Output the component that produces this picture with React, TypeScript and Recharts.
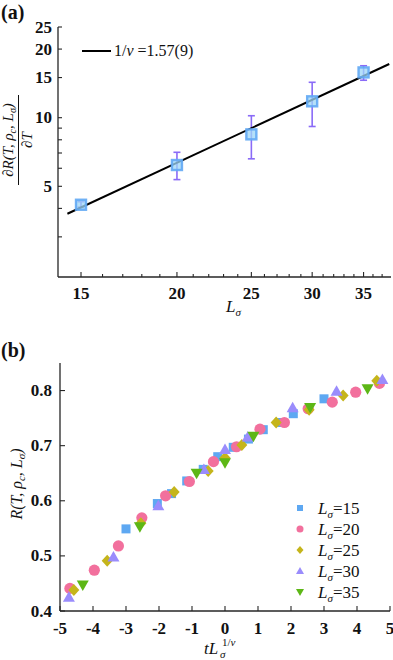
import React from 'react';
import { ComposedChart, Scatter, XAxis, YAxis, ErrorBar } from 'recharts';

const FONT = '"Liberation Serif", "Times New Roman", serif';
const AXIS = '#262626';

// ---------- Panel (a) ----------
const systemSizes = [15, 20, 25, 30, 35];
const slopeValues = [4.15, 6.2, 8.45, 11.8, 15.8];
const slopeLower = [4.05, 5.35, 6.6, 9.15, 14.6];
const slopeUpper = [4.28, 7.05, 10.2, 14.3, 16.9];
const fitSizes = [14.4, 37.8];
const fitValues = [3.79, 17.2];
const aXTicks = [15, 16, 17, 18, 19, 20, 21, 22, 23, 24, 25, 26, 27, 28, 29, 30, 31, 32, 33, 34, 35, 36, 37];
const aXLabels = [15, 20, 25, 30, 35];
const aYTicks = [3, 4, 5, 6, 7, 8, 9, 10, 15, 20, 25];
const aYLabels = [5, 10, 15, 20, 25];

// ---------- Panel (b) ----------
const bXTicks = [-5, -4, -3, -2, -1, 0, 1, 2, 3, 4, 5];
const bYTicks = [0.4, 0.5, 0.6, 0.7, 0.8];

const tL15 = [-3.0, -2.05, -1.62, -1.16, -0.66, -0.22, 0.25, 0.71, 1.16, 1.72, 2.07, 3.0];
const rL15 = [0.549, 0.595, 0.613, 0.636, 0.657, 0.68, 0.697, 0.712, 0.729, 0.742, 0.758, 0.785];
const tL20 = [-4.7, -3.96, -3.23, -2.52, -1.8, -1.08, -0.35, 0.35, 1.06, 1.8, 2.52, 3.25, 3.96, 4.68];
const rL20 = [0.441, 0.474, 0.518, 0.569, 0.609, 0.635, 0.671, 0.698, 0.73, 0.742, 0.767, 0.779, 0.797, 0.813];
const tL25 = [-4.58, -3.57, -2.55, -1.54, -0.51, 0, 0.51, 1.55, 2.55, 3.58, 4.6];
const rL25 = [0.438, 0.491, 0.559, 0.616, 0.654, 0.678, 0.701, 0.742, 0.765, 0.791, 0.818];
const tL30 = [-4.73, -3.38, -2.02, -0.64, 0, 0.69, 2.05, 3.38, 4.77];
const rL30 = [0.424, 0.497, 0.59, 0.656, 0.692, 0.715, 0.768, 0.798, 0.819];
const tL35 = [-4.31, -2.58, -0.86, 0, 0.86, 2.58, 4.32];
const rL35 = [0.448, 0.554, 0.651, 0.67, 0.718, 0.77, 0.804];
const legendNames = ['15', '20', '25', '30', '35'];

const C_BLUE = '#5ea8f2';
const C_PINK = '#f2709d';
const C_OLIVE = '#c5b51b';
const C_LAV = '#9a8cfc';
const C_GREEN = '#5db716';

const zip = (xs: number[], ys: number[]) => xs.map((x, i) => ({ x, y: ys[i] }));

const pointsA = systemSizes.map((x, i) => ({
  x,
  y: slopeValues[i],
  err: [slopeValues[i] - slopeLower[i], slopeUpper[i] - slopeValues[i]],
}));
const fitA = zip(fitSizes, fitValues);

type Side = 'left' | 'right' | 'top' | 'bottom';

const tickFactory = (
  side: Side,
  majors: number[],
  labels: number[] | null,
  majorLen: number,
  minorLen: number,
  gap: number,
  fmt: (v: number) => string
) => (props: any) => {
  const { x, y, payload } = props;
  const v = payload.value;
  const isMajor = majors.some((m) => Math.abs(m - v) < 1e-9);
  const len = isMajor ? majorLen : minorLen;
  let line: any = null;
  if (side === 'left') line = <line x1={x} y1={y} x2={x + len} y2={y} />;
  if (side === 'right') line = <line x1={x} y1={y} x2={x - len} y2={y} />;
  if (side === 'bottom') line = <line x1={x} y1={y} x2={x} y2={y - len} />;
  if (side === 'top') line = <line x1={x} y1={y} x2={x} y2={y + len} />;
  const showLabel = labels && labels.some((m) => Math.abs(m - v) < 1e-9);
  let label: any = null;
  if (showLabel) {
    if (side === 'left')
      label = (
        <text x={x - gap} y={y} textAnchor="end" dominantBaseline="central" fontFamily={FONT} fontWeight="bold" fontSize={17} fill="#111" stroke="none">
          {fmt(v)}
        </text>
      );
    if (side === 'bottom')
      label = (
        <text x={x} y={y + gap} textAnchor="middle" dominantBaseline="central" fontFamily={FONT} fontWeight="bold" fontSize={17} fill="#111" stroke="none">
          {fmt(v)}
        </text>
      );
  }
  return (
    <g stroke={AXIS} strokeWidth={1.1}>
      {line}
      {label}
    </g>
  );
};

const noop = () => <g />;

const SquareA = (p: any) => (
  <rect x={p.cx - 5} y={p.cy - 5} width={10} height={10} fill="#9cd6f7" fillOpacity={0.75} stroke="#62a8f4" strokeWidth={2.4} strokeOpacity={0.9} />
);
const ShSquare = (p: any) => <rect x={p.cx - 4.5} y={p.cy - 4.5} width={9} height={9} fill={C_BLUE} />;
const ShCircle = (p: any) => <circle cx={p.cx} cy={p.cy} r={5.6} fill={C_PINK} />;
const ShDiamond = (p: any) => (
  <polygon points={`${p.cx},${p.cy - 6} ${p.cx + 5.5},${p.cy} ${p.cx},${p.cy + 6} ${p.cx - 5.5},${p.cy}`} fill={C_OLIVE} />
);
const ShUp = (p: any) => (
  <polygon points={`${p.cx},${p.cy - 6.5} ${p.cx + 6},${p.cy + 4} ${p.cx - 6},${p.cy + 4}`} fill={C_LAV} />
);
const ShDown = (p: any) => (
  <polygon points={`${p.cx - 6},${p.cy - 4} ${p.cx + 6},${p.cy - 4} ${p.cx},${p.cy + 6.5}`} fill={C_GREEN} />
);

const axisLine = { stroke: AXIS, strokeWidth: 1.3 };

function PanelA() {
  return (
    <ComposedChart width={393} height={330} margin={{ top: 27, right: 2, bottom: 0, left: 0 }}>
      <XAxis xAxisId="b" dataKey="x" type="number" scale="log" domain={[14, 38]} allowDataOverflow ticks={aXTicks} interval={0}
        tickSize={0} tickMargin={0} tickLine={false} axisLine={axisLine} height={53}
        tick={tickFactory('bottom', aXLabels, aXLabels, 5, 3, 16, (v) => String(v))} />
      <XAxis xAxisId="t" orientation="top" dataKey="x" type="number" scale="log" domain={[14, 38]} allowDataOverflow ticks={aXTicks} interval={0}
        tickSize={0} tickMargin={0} tickLine={false} axisLine={axisLine} height={0}
        tick={tickFactory('top', aXLabels, null, 5, 3, 0, (v) => String(v))} />
      <YAxis yAxisId="l" type="number" scale="log" domain={[2, 25]} allowDataOverflow ticks={aYTicks} interval={0}
        tickSize={0} tickMargin={0} tickLine={false} axisLine={axisLine} width={58}
        tick={tickFactory('left', aYLabels, aYLabels, 4, 4, 6, (v) => String(v))} />
      <YAxis yAxisId="r" orientation="right" type="number" scale="log" domain={[2, 25]} allowDataOverflow ticks={aYTicks} interval={0}
        tickSize={0} tickMargin={0} tickLine={false} axisLine={axisLine} width={0}
        tick={tickFactory('right', aYLabels, null, 4, 4, 0, (v) => String(v))} />
      <Scatter xAxisId="b" yAxisId="l" data={fitA} dataKey="y" line={{ stroke: '#000', strokeWidth: 2 }} shape={noop} isAnimationActive={false} />
      <Scatter xAxisId="b" yAxisId="l" data={pointsA} dataKey="y" shape={SquareA} isAnimationActive={false}>
        <ErrorBar dataKey="err" direction="y" width={3.5} stroke="#8a6bf7" strokeWidth={1.6} isAnimationActive={false} />
      </Scatter>
    </ComposedChart>
  );
}

function PanelB() {
  return (
    <ComposedChart width={393} height={330} margin={{ top: 33, right: 3, bottom: 0, left: 0 }}>
      <XAxis xAxisId="b" dataKey="x" type="number" domain={[-5, 5]} allowDataOverflow ticks={bXTicks} interval={0}
        tickSize={0} tickMargin={0} tickLine={false} axisLine={axisLine} height={49}
        tick={tickFactory('bottom', bXTicks, bXTicks, 5, 5, 17, (v) => String(v))} />
      <XAxis xAxisId="t" orientation="top" dataKey="x" type="number" domain={[-5, 5]} allowDataOverflow ticks={bXTicks} interval={0}
        tickSize={0} tickMargin={0} tickLine={false} axisLine={axisLine} height={0}
        tick={tickFactory('top', bXTicks, null, 5, 5, 0, (v) => String(v))} />
      <YAxis yAxisId="l" type="number" domain={[0.4, 0.85]} allowDataOverflow ticks={bYTicks} interval={0}
        tickSize={0} tickMargin={0} tickLine={false} axisLine={axisLine} width={60}
        tick={tickFactory('left', bYTicks, bYTicks, 5, 5, 8, (v) => v.toFixed(1))} />
      <YAxis yAxisId="r" orientation="right" type="number" domain={[0.4, 0.85]} allowDataOverflow ticks={bYTicks} interval={0}
        tickSize={0} tickMargin={0} tickLine={false} axisLine={axisLine} width={0}
        tick={tickFactory('right', bYTicks, null, 5, 5, 0, (v) => v.toFixed(1))} />
      <Scatter xAxisId="b" yAxisId="l" data={zip(tL15, rL15)} dataKey="y" shape={ShSquare} isAnimationActive={false} />
      <Scatter xAxisId="b" yAxisId="l" data={zip(tL20, rL20)} dataKey="y" shape={ShCircle} isAnimationActive={false} />
      <Scatter xAxisId="b" yAxisId="l" data={zip(tL25, rL25)} dataKey="y" shape={ShDiamond} isAnimationActive={false} />
      <Scatter xAxisId="b" yAxisId="l" data={zip(tL30, rL30)} dataKey="y" shape={ShUp} isAnimationActive={false} />
      <Scatter xAxisId="b" yAxisId="l" data={zip(tL35, rL35)} dataKey="y" shape={ShDown} isAnimationActive={false} />
    </ComposedChart>
  );
}

function Overlay() {
  const lx = 300;
  const rows = [508, 529, 550, 571, 592];
  const legendMarks = [
    (y: number) => <rect key="m0" x={lx - 3} y={y - 3} width={6} height={6} fill={C_BLUE} />,
    (y: number) => <circle key="m1" cx={lx} cy={y} r={3.5} fill={C_PINK} />,
    (y: number) => <polygon key="m2" points={`${lx},${y - 4} ${lx + 3.5},${y} ${lx},${y + 4} ${lx - 3.5},${y}`} fill={C_OLIVE} />,
    (y: number) => <polygon key="m3" points={`${lx},${y - 4} ${lx + 4},${y + 3} ${lx - 4},${y + 3}`} fill={C_LAV} />,
    (y: number) => <polygon key="m4" points={`${lx - 4},${y - 3} ${lx + 4},${y - 3} ${lx},${y + 4}`} fill={C_GREEN} />,
  ];
  return (
    <svg width={393} height={660} style={{ position: 'absolute', left: 0, top: 0, pointerEvents: 'none' }}>
      <g fontFamily={FONT} fill="#111">
        <text x={1} y={19} fontSize={20} fontWeight="bold">(a)</text>
        <text x={1} y={357} fontSize={20} fontWeight="bold">(b)</text>

        {/* legend (a) */}
        <line x1={82} y1={51} x2={111} y2={51} stroke="#000" strokeWidth={2} />
        <text x={114} y={56} fontSize={16}>
          <tspan>1/</tspan>
          <tspan fontStyle="italic">ν</tspan>
          <tspan> =1.57(9)</tspan>
        </text>

        {/* y label (a) */}
        <text transform="translate(12.5,140) rotate(-90)" textAnchor="middle" fontSize={15} fontStyle="italic">
          ∂R(T, ρ<tspan dy={3} fontSize={10}>c</tspan>
          <tspan dy={-3}>, L</tspan>
          <tspan dy={3} fontSize={10}>σ</tspan>
          <tspan dy={-3}>)</tspan>
        </text>
        <line x1={18.5} y1={95} x2={18.5} y2={185} stroke="#111" strokeWidth={1} />
        <text transform="translate(32,140) rotate(-90)" textAnchor="middle" fontSize={15} fontStyle="italic">∂T</text>

        {/* x label (a) */}
        <text x={226} y={312} fontSize={17} fontStyle="italic">
          L<tspan dy={4} fontSize={11}>σ</tspan>
        </text>

        {/* y label (b) */}
        <text transform="translate(22,484) rotate(-90)" textAnchor="middle" fontSize={16} fontStyle="italic">
          R(T, ρ<tspan dy={3} fontSize={11}>c</tspan>
          <tspan dy={-3}>, L</tspan>
          <tspan dy={3} fontSize={11}>σ</tspan>
          <tspan dy={-3}>)</tspan>
        </text>

        {/* x label (b) */}
        <text x={204} y={654} fontSize={17} fontStyle="italic">
          tL
        </text>
        <text x={220} y={658} fontSize={11} fontStyle="italic">σ</text>
        <text x={222} y={646} fontSize={11}>
          1/<tspan fontStyle="italic">ν</tspan>
        </text>

        {/* legend (b) */}
        {rows.map((y, i) => (
          <g key={i}>
            {legendMarks[i](y)}
            <text x={318} y={y + 6} fontSize={17}>
              <tspan fontStyle="italic">L</tspan>
              <tspan dy={4} fontSize={11} fontStyle="italic">σ</tspan>
              <tspan dy={-4}>={legendNames[i]}</tspan>
            </text>
          </g>
        ))}
      </g>
    </svg>
  );
}

export default function App() {
  return (
    <div style={{ position: 'absolute', left: 0, top: 0, width: 393, height: 660, background: '#fff' }}>
      <div style={{ position: 'absolute', left: 0, top: 0 }}>
        <PanelA />
      </div>
      <div style={{ position: 'absolute', left: 0, top: 330 }}>
        <PanelB />
      </div>
      <Overlay />
    </div>
  );
}
